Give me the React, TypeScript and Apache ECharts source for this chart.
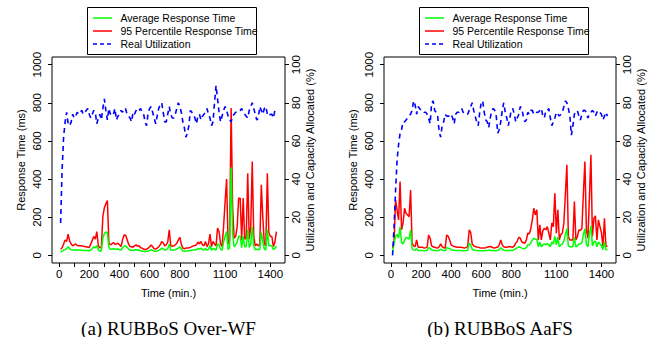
import React, { useEffect, useRef } from "react";
import * as echarts from "echarts";

const minutes = [
  10, 20, 30, 40, 50, 60, 70, 80, 90, 100,
  110, 120, 130, 140, 150, 160, 170, 180, 190, 200,
  210, 220, 230, 240, 250, 260, 270, 280, 290, 300,
  310, 320, 330, 340, 350, 360, 370, 380, 390, 400,
  410, 420, 430, 440, 450, 460, 470, 480, 490, 500,
  510, 520, 530, 540, 550, 560, 570, 580, 590, 600,
  610, 620, 630, 640, 650, 660, 670, 680, 690, 700,
  710, 720, 730, 740, 750, 760, 770, 780, 790, 800,
  810, 820, 830, 840, 850, 860, 870, 880, 890, 900,
  910, 920, 930, 940, 950, 960, 970, 980, 990, 1000,
  1010, 1020, 1030, 1040, 1050, 1060, 1070, 1080, 1090, 1100,
  1110, 1120, 1130, 1140, 1150, 1160, 1170, 1180, 1190, 1200,
  1210, 1220, 1230, 1240, 1250, 1260, 1270, 1280, 1290, 1300,
  1310, 1320, 1330, 1340, 1350, 1360, 1370, 1380, 1390, 1400,
  1410, 1420, 1430, 1440,
];

// Panel (a) RUBBoS Over-WF
const p95A = [
  32, 40, 60, 81, 73, 111, 75, 60, 50, 55,
  60, 52, 50, 50, 50, 48, 47, 45, 43, 42,
  60, 80, 99, 85, 125, 50, 40, 42, 204, 250,
  270, 288, 64, 55, 60, 67, 58, 60, 64, 55,
  46, 80, 105, 107, 85, 60, 46, 45, 43, 50,
  55, 48, 50, 40, 38, 33, 30, 33, 38, 45,
  55, 45, 35, 33, 38, 45, 55, 73, 65, 50,
  55, 70, 134, 50, 48, 50, 55, 64, 80, 95,
  60, 38, 35, 38, 38, 40, 42, 46, 50, 52,
  55, 70, 60, 73, 55, 50, 73, 46, 60, 111,
  46, 73, 60, 50, 143, 125, 60, 46, 150, 280,
  400, 60, 80, 773, 250, 90, 100, 150, 300, 300,
  80, 300, 85, 90, 431, 85, 150, 492, 99, 50,
  60, 50, 55, 370, 200, 60, 50, 431, 120, 99,
  99, 46, 70, 125,
];
const avgA = [
  17, 22, 28, 30, 35, 46, 35, 29, 28, 28,
  29, 28, 28, 27, 27, 26, 26, 25, 25, 24,
  28, 35, 45, 40, 50, 30, 22, 24, 90, 115,
  122, 120, 40, 32, 33, 35, 32, 32, 33, 30,
  28, 40, 48, 50, 42, 33, 28, 27, 26, 28,
  30, 27, 28, 24, 23, 21, 20, 21, 23, 26,
  30, 26, 22, 21, 23, 26, 30, 38, 35, 28,
  30, 36, 58, 28, 27, 28, 30, 33, 38, 45,
  33, 23, 22, 23, 23, 24, 25, 27, 28, 29,
  30, 36, 32, 38, 30, 28, 37, 27, 32, 52,
  27, 37, 32, 28, 60, 55, 32, 27, 70, 100,
  125, 30, 40, 461, 110, 45, 55, 70, 100, 100,
  40, 100, 45, 45, 135, 42, 60, 150, 50, 30,
  32, 30, 32, 120, 75, 32, 30, 135, 50, 50,
  50, 30, 35, 50,
];
const utilA = [
  17, 45, 62, 70, 75, 69, 68, 70, 74, 72,
  73, 75, 74, 75, 76, 74, 75, 76, 77, 74,
  72, 74, 76, 75, 69, 72, 74, 71, 77, 82,
  76, 71, 77, 74, 75, 74, 77, 71, 73, 74,
  76, 75, 77, 77, 74, 73, 72, 70, 75, 74,
  76, 75, 76, 77, 75, 74, 70, 68, 75, 77,
  78, 75, 72, 69, 73, 77, 79, 80, 75, 70,
  70, 74, 78, 74, 72, 72, 74, 77, 80, 78,
  75, 70, 67, 62, 64, 68, 76, 75, 74, 72,
  69, 73, 74, 71, 73, 74, 75, 77, 74, 72,
  68, 70, 80, 89, 82, 75, 70, 73, 76, 78,
  76, 73, 71, 70, 73, 74, 75, 75, 76, 76,
  77, 75, 74, 73, 72, 76, 78, 80, 77, 74,
  71, 72, 78, 76, 74, 77, 78, 74, 73, 74,
  74, 72, 76, 77,
];

// Panel (b) RUBBoS AaFS
const p95B = [
  38, 70, 290, 239, 186, 387, 134, 170, 247, 220,
  212, 203, 343, 64, 50, 46, 81, 43, 43, 43,
  42, 38, 40, 43, 107, 90, 50, 45, 43, 40,
  38, 45, 60, 46, 40, 38, 107, 100, 81, 55,
  50, 46, 45, 42, 42, 43, 42, 40, 38, 42,
  46, 134, 120, 60, 50, 46, 44, 43, 40, 38,
  38, 38, 40, 43, 45, 46, 44, 40, 38, 42,
  43, 55, 81, 55, 45, 43, 42, 45, 46, 44,
  43, 50, 64, 75, 95, 90, 70, 66, 64, 80,
  116, 113, 140, 186, 247, 212, 239, 81, 160, 81,
  130, 142, 134, 151, 116, 81, 169, 150, 326, 116,
  239, 81, 110, 116, 169, 320, 475, 99, 81, 81,
  81, 282, 81, 99, 134, 130, 142, 326, 492, 134,
  90, 300, 527, 99, 194, 207, 81, 186, 151, 120,
  46, 194, 46, 50,
];
const avgB = [
  17, 60, 100, 110, 90, 150, 65, 60, 80, 95,
  90, 85, 134, 35, 28, 27, 35, 26, 26, 26,
  25, 24, 25, 26, 40, 38, 28, 27, 26, 25,
  24, 27, 32, 28, 25, 24, 40, 38, 35, 30,
  28, 27, 26, 25, 25, 26, 25, 24, 24, 25,
  27, 64, 55, 32, 28, 27, 26, 25, 24, 24,
  24, 24, 25, 26, 27, 27, 26, 25, 24, 25,
  26, 30, 40, 32, 27, 26, 25, 26, 27, 26,
  26, 30, 35, 40, 45, 42, 38, 36, 35, 40,
  55, 55, 65, 80, 90, 85, 85, 45, 70, 45,
  55, 60, 55, 62, 55, 45, 70, 60, 100, 55,
  95, 45, 55, 60, 75, 110, 140, 50, 45, 45,
  45, 95, 45, 50, 60, 60, 65, 110, 140, 60,
  45, 110, 155, 50, 70, 75, 45, 70, 60, 50,
  30, 70, 30, 30,
];
const utilB = [
  0, 15, 34, 50, 58, 64, 66, 70, 70, 71,
  72, 73, 74, 76, 81, 79, 74, 78, 77, 76,
  76, 75, 75, 74, 72, 69, 80, 81, 76, 75,
  73, 65, 62, 68, 70, 74, 73, 73, 73, 74,
  72, 69, 74, 75, 75, 76, 77, 75, 74, 74,
  74, 76, 78, 80, 76, 73, 70, 68, 75, 80,
  81, 75, 71, 70, 67, 72, 76, 77, 76, 73,
  64, 66, 70, 76, 80, 75, 72, 68, 72, 76,
  77, 74, 70, 72, 74, 78, 77, 73, 70, 71,
  75, 74, 76, 76, 74, 74, 75, 75, 76, 77,
  73, 72, 76, 76, 77, 72, 68, 70, 72, 75,
  74, 73, 74, 75, 78, 81, 80, 77, 73, 63,
  68, 74, 75, 76, 73, 71, 74, 76, 76, 75,
  72, 74, 75, 76, 75, 73, 75, 76, 75, 74,
  71, 73, 75, 73,
];

const xTicks = [0, 100, 200, 300, 400, 500, 600, 700, 800, 900, 1000, 1100, 1200, 1300, 1400];
const xLabels = [0, 200, 400, 600, 800, 1100, 1400];
const leftTicks = [0, 200, 400, 600, 800, 1000];
const rightTicks = [0, 20, 40, 60, 80, 100];

const seriesNames = ["Average Response Time", "95 Percentile Response Time", "Real Utilization"];
const captions = ["(a) RUBBoS Over-WF", "(b) RUBBoS AaFS"];
const xTitle = "Time (min.)";
const leftTitle = "Response Time (ms)";
const rightTitle = "Utilization and Capacity Allocated (%)";

const SANS = "'Liberation Sans', Arial, Helvetica, sans-serif";
const SERIF = "'Liberation Serif', 'Times New Roman', serif";
const GREEN = "#00ff00";
const RED = "#ff0000";
const BLUE = "#0000ff";

const panels = [
  { left: 52, width: 233, avg: avgA, p95: p95A, util: utilA },
  { left: 384, width: 232, avg: avgB, p95: p95B, util: utilB },
];
const GRID_TOP = 57;
const GRID_H = 206;

function pairs(vals: number[]) {
  return minutes.map((t, i) => [t, vals[i]]);
}

const plain = (v: number) => String(v);

function buildOption() {
  const grid: any[] = [];
  const xAxis: any[] = [];
  const yAxis: any[] = [];
  const series: any[] = [];
  const graphic: any[] = [];

  panels.forEach((p, gi) => {
    grid.push({
      left: p.left,
      top: GRID_TOP,
      width: p.width,
      height: GRID_H,
      show: true,
      borderColor: "#000",
      borderWidth: 1,
      backgroundColor: "transparent",
      containLabel: false,
    });
    xAxis.push({
      type: "value",
      gridIndex: gi,
      min: -47,
      max: 1497,
      axisLine: { show: false, onZero: false },
      splitLine: { show: false },
      axisTick: { show: true, customValues: xTicks, length: 4, lineStyle: { color: "#000", width: 1 } },
      axisLabel: { customValues: xLabels, formatter: plain, margin: 5, color: "#000", fontSize: 11.5, fontFamily: SANS },
    });
    yAxis.push({
      type: "value",
      gridIndex: gi,
      position: "left",
      min: -40,
      max: 1040,
      axisLine: { show: false, onZero: false },
      splitLine: { show: false },
      axisTick: { show: true, customValues: leftTicks, length: 4, lineStyle: { color: "#000", width: 1 } },
      axisLabel: { customValues: leftTicks, formatter: plain, rotate: 90, margin: 9, color: "#000", fontSize: 11.5, fontFamily: SANS },
    });
    yAxis.push({
      type: "value",
      gridIndex: gi,
      position: "right",
      min: -4,
      max: 104,
      axisLine: { show: false, onZero: false },
      splitLine: { show: false },
      axisTick: { show: true, customValues: rightTicks, length: 4, lineStyle: { color: "#000", width: 1 } },
      axisLabel: { customValues: rightTicks, formatter: plain, rotate: 90, margin: 5, color: "#000", fontSize: 11.5, fontFamily: SANS },
    });

    series.push({
      name: seriesNames[1],
      type: "line",
      xAxisIndex: gi,
      yAxisIndex: gi * 2,
      data: pairs(p.p95),
      symbol: "none",
      lineStyle: { color: RED, width: 1.5 },
      itemStyle: { color: RED },
      z: 2,
    });
    series.push({
      name: seriesNames[0],
      type: "line",
      xAxisIndex: gi,
      yAxisIndex: gi * 2,
      data: pairs(p.avg),
      symbol: "none",
      lineStyle: { color: GREEN, width: 1.5 },
      itemStyle: { color: GREEN },
      z: 3,
    });
    series.push({
      name: seriesNames[2],
      type: "line",
      xAxisIndex: gi,
      yAxisIndex: gi * 2 + 1,
      data: pairs(p.util),
      symbol: "none",
      lineStyle: { color: BLUE, width: 1.6, type: [5, 4] },
      itemStyle: { color: BLUE },
      z: 4,
    });

    const dx = gi === 0 ? 0 : 332;
    const cx = p.left + p.width / 2;
    graphic.push({
      type: "rect",
      shape: { x: 87.5 + dx, y: 7.5, width: 169, height: 47 },
      style: { fill: "#fff", stroke: "#000", lineWidth: 1 },
      z: 10,
    });
    const rows = [18, 31, 44];
    const colors = [GREEN, RED, BLUE];
    rows.forEach((ry, k) => {
      graphic.push({
        type: "line",
        shape: { x1: 93 + dx, y1: ry, x2: 112 + dx, y2: ry },
        style: { stroke: colors[k], lineWidth: 1.5, lineDash: k === 2 ? [4, 3] : null },
        z: 11,
      });
      graphic.push({
        type: "text",
        x: 120.5 + dx,
        y: ry,
        style: {
          text: seriesNames[k],
          fill: "#000",
          fontSize: 10.5,
          fontFamily: SANS,
          align: "left",
          verticalAlign: "middle",
        },
        z: 11,
      });
    });
    graphic.push({
      type: "text",
      x: cx,
      y: 293,
      style: { text: xTitle, fill: "#000", fontSize: 11, fontFamily: SANS, align: "center", verticalAlign: "middle" },
    });
    graphic.push({
      type: "text",
      x: p.left - 31.5,
      y: GRID_TOP + GRID_H / 2,
      rotation: Math.PI / 2,
      style: { text: leftTitle, fill: "#000", fontSize: 11, fontFamily: SANS, align: "center", verticalAlign: "middle" },
    });
    graphic.push({
      type: "text",
      x: p.left + p.width + 25,
      y: GRID_TOP + GRID_H / 2,
      rotation: Math.PI / 2,
      style: { text: rightTitle, fill: "#000", fontSize: 11, fontFamily: SANS, align: "center", verticalAlign: "middle" },
    });
    graphic.push({
      type: "text",
      x: cx,
      y: 328,
      style: { text: captions[gi], fill: "#000", fontSize: 19, fontFamily: SERIF, align: "center", verticalAlign: "middle" },
    });
  });

  return {
    animation: false,
    backgroundColor: "#fff",
    grid,
    xAxis,
    yAxis,
    series,
    graphic,
  };
}

export default function App() {
  const ref = useRef<HTMLDivElement>(null);
  useEffect(() => {
    if (!ref.current) return;
    const chart = echarts.init(ref.current, null, { renderer: "svg" });
    chart.setOption(buildOption() as any);
    return () => chart.dispose();
  }, []);
  return (
    <div
      ref={ref}
      style={{ position: "absolute", left: 0, top: 0, width: 653, height: 337, background: "#fff" }}
    />
  );
}
